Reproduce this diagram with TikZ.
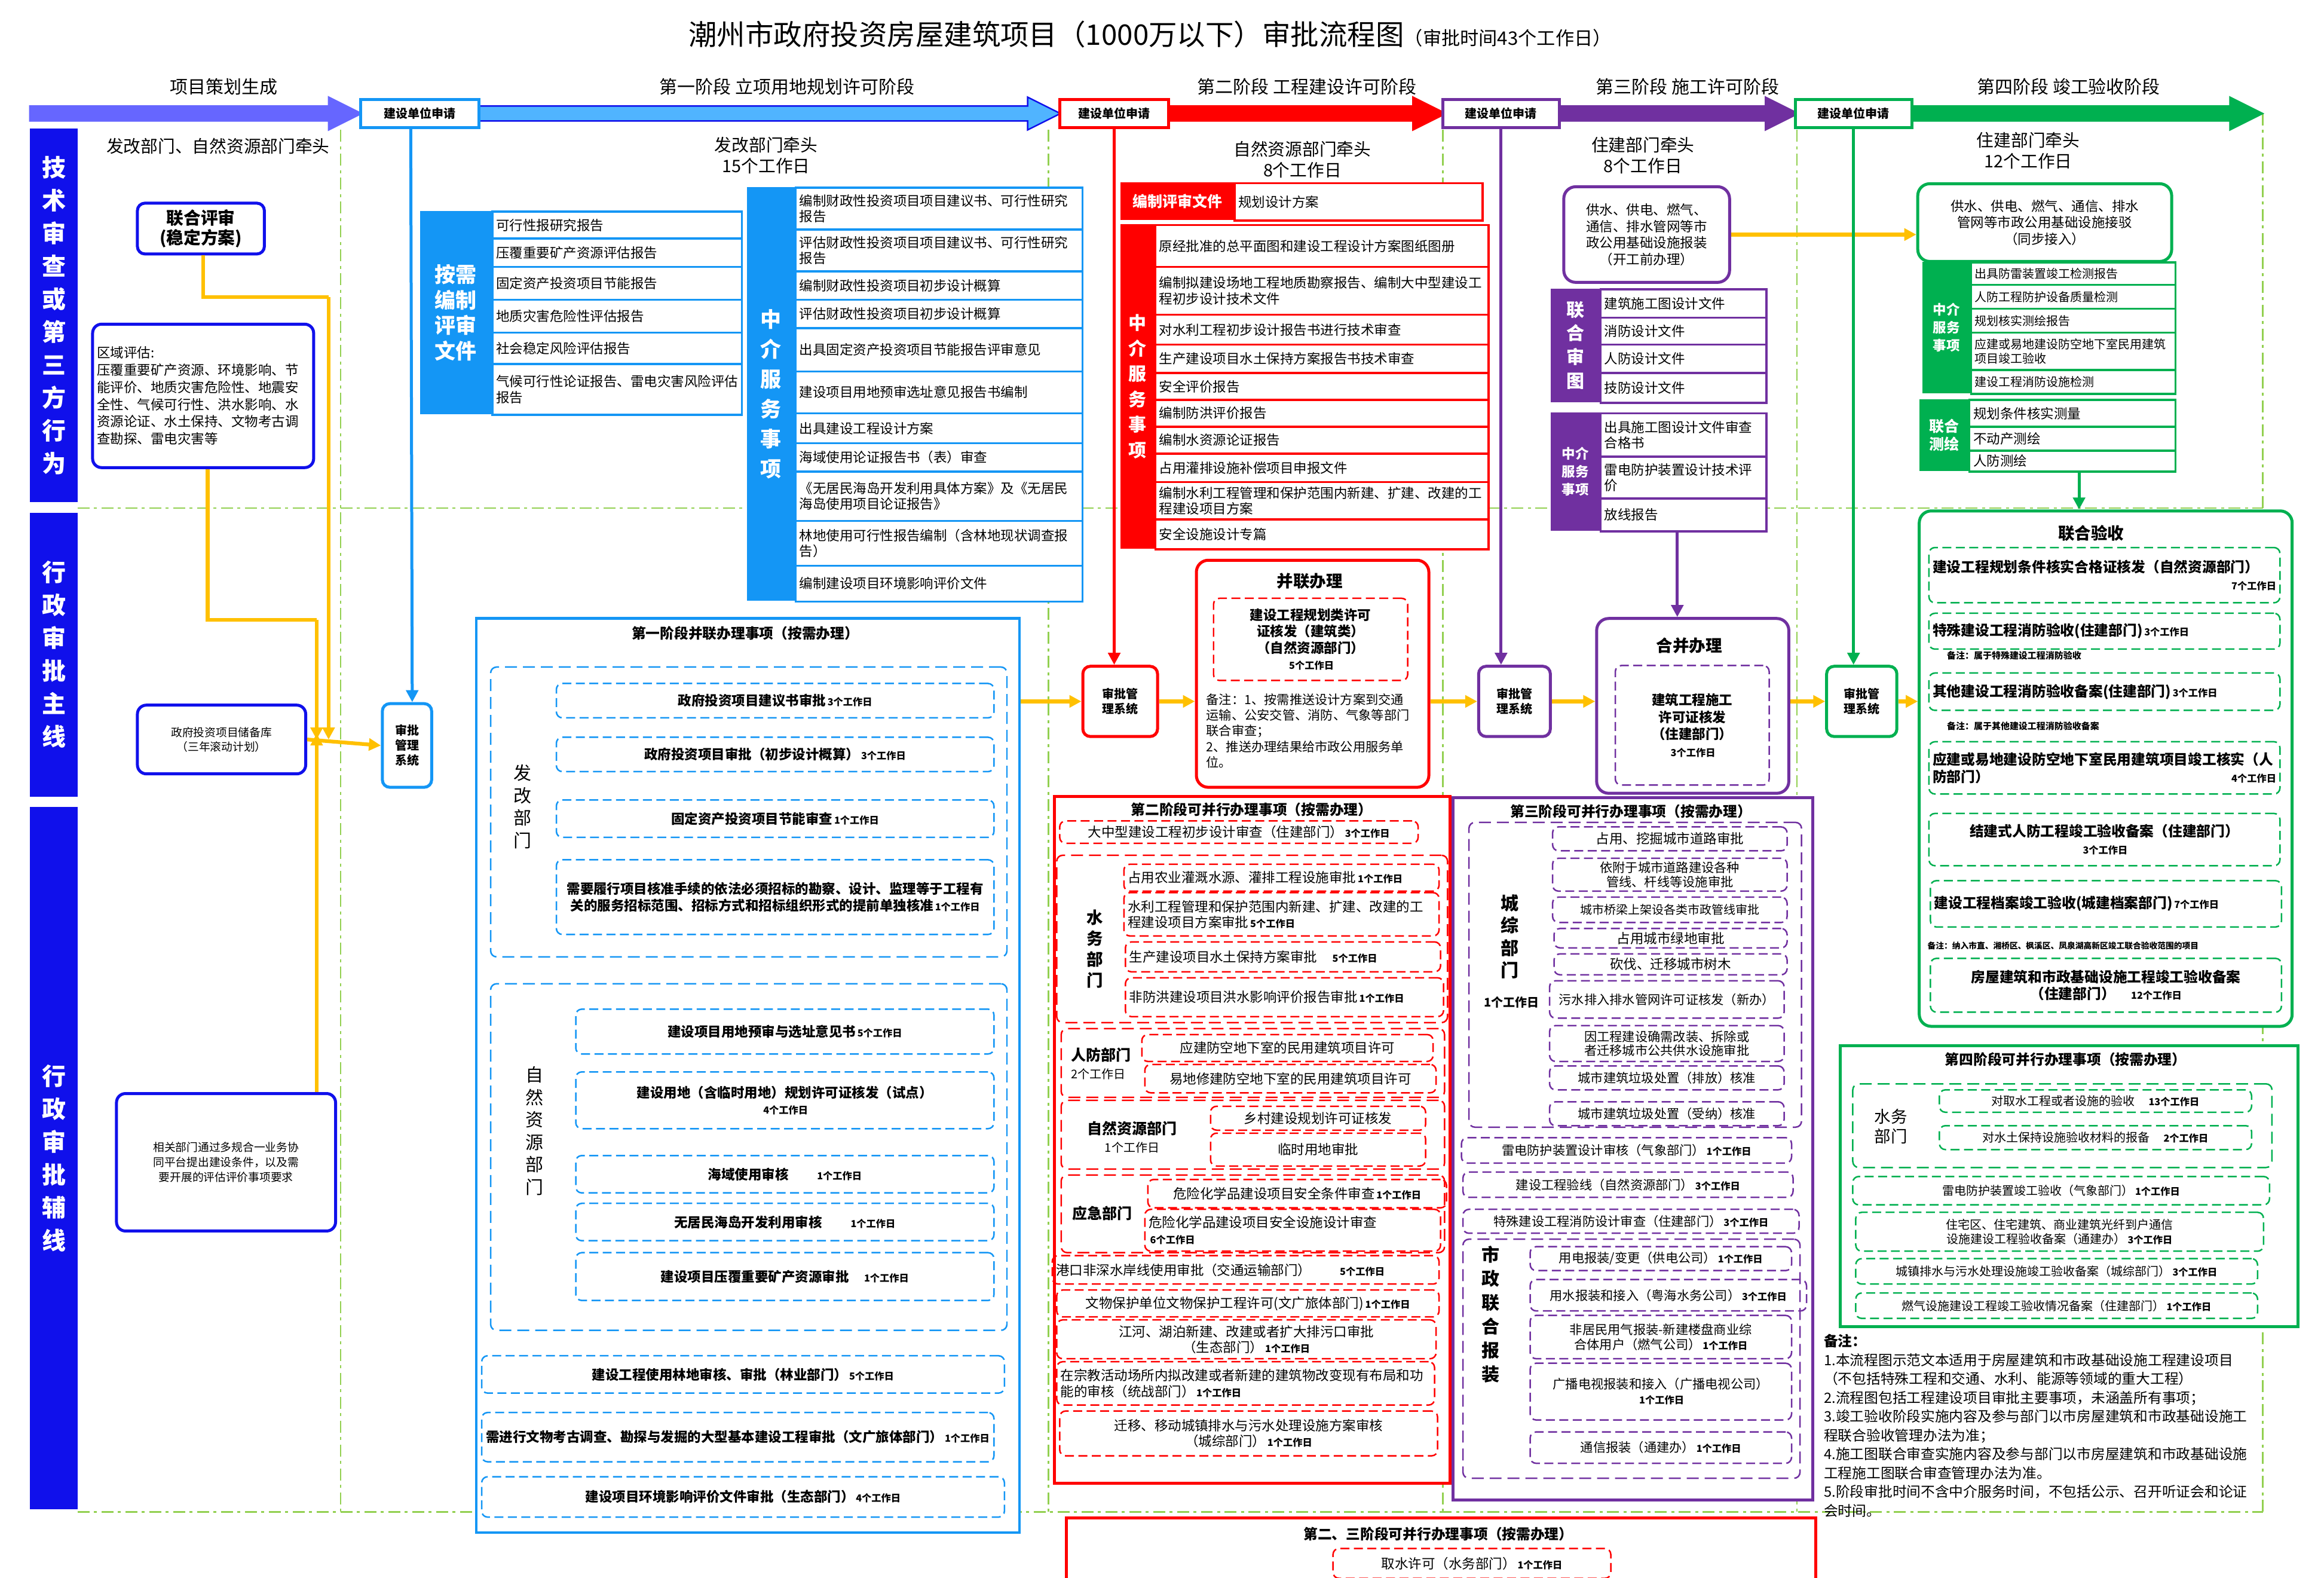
\documentclass[tikz,border=0pt]{standalone}
\usepackage{fontspec}
\setmainfont{Noto Sans CJK SC}
\XeTeXlinebreaklocale "zh"
\XeTeXlinebreakskip=0pt
\usetikzlibrary{arrows.meta}
\definecolor{sideb}{RGB}{16,16,235}
\definecolor{skyb}{RGB}{20,150,245}
\definecolor{redc}{RGB}{255,0,0}
\definecolor{purp}{RGB}{112,48,160}
\definecolor{grn}{RGB}{0,176,80}
\definecolor{yel}{RGB}{255,192,0}
\definecolor{lgr}{RGB}{146,208,80}
\definecolor{peri}{RGB}{102,102,255}
\definecolor{lblue}{RGB}{80,180,255}
\newcommand{\B}[7]{\pgfmathsetmacro\tw{#4-5}\node[#6,anchor=north west,minimum width=#4pt,minimum height=#5pt,text width=\tw pt] (#1) at (#2,#3) {#7};}
\newcommand{\gz}[1]{{\fontsize{6.5}{7.5}\selectfont\bfseries\,#1个工作日}}
\newcommand{\tarr}[5]{\filldraw[fill=#4,draw=#5,line width=1pt] (#1,71) -- (#2-22,71) -- (#2-22,65) -- (#2,76) -- (#2-22,87) -- (#2-22,81) -- (#1,81) -- cycle;}
\tikzset{
 base/.style={inner sep=1.5pt, font=\fontsize{9}{10.5}\selectfont},
 bi/.style={base, draw=skyb, line width=1.3pt, fill=white, align=left},
 ri/.style={base, draw=redc, line width=1.3pt, fill=white, align=left},
 pi/.style={base, draw=purp, line width=1.3pt, fill=white, align=left},
 gi/.style={base, draw=grn, line width=1.3pt, fill=white, align=left, font=\fontsize{8}{9.5}\selectfont},
 lbl/.style={inner sep=1pt, text=white, font=\bfseries\fontsize{12}{14}\selectfont, align=center},
 dsh/.style={base, dash pattern=on 6pt off 3pt, line width=1pt, rounded corners=4pt, align=center},
 dsb/.style={dsh, draw=skyb, font=\bfseries\fontsize{9}{11}\selectfont},
 dsr/.style={dsh, draw=redc},
 dsp/.style={dsh, draw=purp},
 dsg/.style={dsh, draw=grn, font=\fontsize{9}{10.5}\selectfont},
 dsgb/.style={dsh, draw=grn, font=\bfseries\fontsize{9.5}{11.5}\selectfont},
 grp/.style={dash pattern=on 8pt off 4pt, line width=1pt, rounded corners=4pt},
 st/.style={draw, line width=2pt, fill=white, font=\bfseries\fontsize{8}{9}\selectfont, minimum height=19pt, inner sep=2pt},
 sp/.style={draw, line width=2pt, fill=white, rounded corners=5pt, font=\bfseries\fontsize{8}{10}\selectfont, align=center, inner sep=1pt},
 arr/.style={-{Triangle[length=8pt,width=8pt]}},
 yl/.style={draw=yel, line width=2.5pt},
 gd/.style={draw=lgr, line width=1pt, dash pattern=on 8pt off 3pt on 2pt off 3pt},
 rb/.style={draw, line width=2pt, fill=white, rounded corners=8pt},
 hd/.style={font=\fontsize{11.5}{14}\selectfont, align=center},
 tl/.style={font=\bfseries\fontsize{9.5}{11}\selectfont},
 nt/.style={font=\bfseries\fontsize{6}{7}\selectfont, anchor=west}
}
\begin{document}
\begin{tikzpicture}[x=1pt,y=-1pt]
\useasboundingbox[fill=white] (0,0) rectangle (1556,1056);
% guide lines
\draw[gd] (228,87) -- (228,1012);
\draw[gd] (702,87) -- (702,1012);
\draw[gd] (966,87) -- (966,1012);
\draw[gd] (1203,87) -- (1203,1012);
\draw[gd] (1515,76) -- (1515,1012);
\draw[gd] (52,340) -- (1515,340);
\draw[gd] (52,1012) -- (1515,1012);
% title
\node (title) at (770,23) {\fontsize{19}{21}\selectfont 潮州市政府投资房屋建筑项目（1000万以下）审批流程图{\fontsize{12.5}{14}\selectfont （审批时间43个工作日）}};
% stage labels
\node[font=\fontsize{12}{14}\selectfont] (s0) at (150,58) {项目策划生成};
\node[font=\fontsize{12}{14}\selectfont] (s1) at (527,58) {第一阶段\ 立项用地规划许可阶段};
\node[font=\fontsize{12}{14}\selectfont] (s2) at (875,58) {第二阶段\ 工程建设许可阶段};
\node[font=\fontsize{12}{14}\selectfont] (s3) at (1130,58) {第三阶段\ 施工许可阶段};
\node[font=\fontsize{12}{14}\selectfont] (s4) at (1385,58) {第四阶段\ 竣工验收阶段};
% top arrows
\tarr{20}{242}{}{peri}{peri}
\tarr{320}{710}{}{lblue}{sideb}
\tarr{782}{968}{}{redc}{redc}
\tarr{1044}{1204}{}{purp}{purp}
\tarr{1280}{1515}{}{grn}{grn}
\node[st,draw=skyb,minimum width=79pt] (sb1) at (281,76) {建设单位申请};
\node[st,draw=redc,minimum width=73pt] (sb2) at (746,76) {建设单位申请};
\node[st,draw=purp,minimum width=78pt] (sb3) at (1005,76) {建设单位申请};
\node[st,draw=grn,minimum width=78pt] (sb4) at (1241,76) {建设单位申请};
% side bars
\B{side1}{20}{86}{32}{250}{fill=sideb,lbl,font=\bfseries\fontsize{16}{22}\selectfont}{技\\术\\审\\查\\或\\第\\三\\方\\行\\为}
\B{side2}{20}{343}{32}{190}{fill=sideb,lbl,font=\bfseries\fontsize{16}{22}\selectfont}{行\\政\\审\\批\\主\\线}
\B{side3}{20}{540}{32}{470}{fill=sideb,lbl,font=\bfseries\fontsize{16}{22}\selectfont}{行\\政\\审\\批\\辅\\线}
% phase 0
\node[hd] (h0) at (146,98) {发改部门、自然资源部门牵头};
\B{lhps}{91}{135}{85}{34}{draw=sideb,line width=2pt,rounded corners=5pt,align=center,inner sep=1pt,font=\bfseries\fontsize{11.5}{13.5}\selectfont}{联合评审\\(稳定方案)}
\B{qypg}{61}{216}{147}{96}{draw=sideb,line width=2pt,rounded corners=6pt,align=left,inner sep=3pt,font=\fontsize{9}{11.5}\selectfont}{区域评估:\\压覆重要矿产资源、环境影响、节能评价、地质灾害危险性、地震安全性、气候可行性、洪水影响、水资源论证、水土保持、文物考古调查勘探、雷电灾害等}
\B{cbk}{91}{471}{111}{46}{draw=sideb,line width=2pt,rounded corners=6pt,align=center,font=\fontsize{7.5}{9.5}\selectfont}{政府投资项目储备库\\（三年滚动计划）}
\B{xgbm}{77}{731}{145}{92}{draw=sideb,line width=2pt,rounded corners=6pt,align=center,font=\fontsize{7.5}{10}\selectfont}{相关部门通过多规合一业务协同平台提出建设条件，以及需要开展的评估评价事项要求}
\B{sp1}{255}{470}{33}{56}{sp,draw=skyb}{审批\\管理\\系统}
\coordinate (ya) at (220,199);
\coordinate (yb) at (139,415);
\coordinate (yc) at (212,415);
\draw[yl] (lhps.south -| 136,0) |- (ya);
\draw[yl,arr] (ya) -- (ya |- cbk.east);
\draw[yl] (qypg.south -| yb) -- (yb) -- (yc);
\draw[yl,arr] (yc) -- (yc |- cbk.east);
\draw[yl,arr] (xgbm.north -| yc) -- ([yshift=4pt]yc |- cbk.east);
\draw[yl,arr] (cbk.east) -- (sp1.west);
\draw[skyb,line width=2pt,arr] ([xshift=-6pt]sb1.south) -- ([xshift=3.5pt]sp1.north);
% phase 1 top
\node[hd] (h1) at (513,104) {发改部门牵头\\15个工作日};
\B{al}{281}{141}{48}{136}{fill=skyb,lbl,font=\bfseries\fontsize{14}{17}\selectfont}{按需\\编制\\评审\\文件}
\B{a1}{329}{141}{167}{18}{bi}{可行性报研究报告}
\B{a2}{329}{159}{167}{19}{bi}{压覆重要矿产资源评估报告}
\B{a3}{329}{178}{167}{22}{bi}{固定资产投资项目节能报告}
\B{a4}{329}{200}{167}{22}{bi}{地质灾害危险性评估报告}
\B{a5}{329}{222}{167}{21}{bi}{社会稳定风险评估报告}
\B{a6}{329}{243}{167}{34}{bi}{气候可行性论证报告、雷电灾害风险评估报告}
\B{bl}{500}{125}{32}{277}{fill=skyb,lbl,font=\bfseries\fontsize{14}{20}\selectfont}{中\\介\\服\\务\\事\\项}
\B{b1}{532}{125}{192}{28}{bi}{编制财政性投资项目项目建议书、可行性研究报告}
\B{b2}{532}{153}{192}{28}{bi}{评估财政性投资项目项目建议书、可行性研究报告}
\B{b3}{532}{181}{192}{19}{bi}{编制财政性投资项目初步设计概算}
\B{b4}{532}{200}{192}{19}{bi}{评估财政性投资项目初步设计概算}
\B{b5}{532}{219}{192}{29}{bi}{出具固定资产投资项目节能报告评审意见}
\B{b6}{532}{248}{192}{28}{bi}{建设项目用地预审选址意见报告书编制}
\B{b7}{532}{276}{192}{20}{bi}{出具建设工程设计方案}
\B{b8}{532}{296}{192}{19}{bi}{海域使用论证报告书（表）审查}
\B{b9}{532}{315}{192}{33}{bi}{《无居民海岛开发利用具体方案》及《无居民海岛使用项目论证报告》}
\B{b10}{532}{348}{192}{30}{bi}{林地使用可行性报告编制（含林地现状调查报告）}
\B{b11}{532}{378}{192}{24}{bi}{编制建设项目环境影响评价文件}
% phase 1 parallel
\B{P1}{318}{413}{362}{612}{draw=skyb,line width=1.8pt,fill=white}{}
\node[tl] (P1t) at (499,424) {第一阶段并联办理事项（按需办理）};
\B{GA}{328}{446}{344}{194}{grp,draw=skyb}{}
\node[font=\fontsize{12}{15}\selectfont,align=center] (GAl) at (350,540) {发\\改\\部\\门};
\B{h1i}{372}{457}{293}{23}{dsb}{政府投资项目建议书审批\gz{3}}
\B{h2i}{372}{493}{293}{23}{dsb}{政府投资项目审批（初步设计概算）\gz{3}}
\B{h3i}{372}{535}{293}{25}{dsb}{固定资产投资项目节能审查\gz{1}}
\B{h4i}{372}{575}{293}{50}{dsb}{需要履行项目核准手续的依法必须招标的勘察、设计、监理等于工程有关的服务招标范围、招标方式和招标组织形式的提前单独核准\gz{1}}
\B{GB}{328}{658}{344}{232}{grp,draw=skyb}{}
\node[font=\fontsize{12}{15}\selectfont,align=center] (GBl) at (358,757) {自\\然\\资\\源\\部\\门};
\B{i1}{385}{675}{280}{30}{dsb}{建设项目用地预审与选址意见书\gz{5}}
\B{i2}{385}{717}{280}{38}{dsb}{建设用地（含临时用地）规划许可证核发（试点）\\\gz{4}}
\B{i3}{385}{773}{280}{25}{dsb}{海域使用审核\qquad\gz{1}}
\B{i4}{385}{805}{280}{25}{dsb}{无居民海岛开发利用审核\qquad\gz{1}}
\B{i5}{385}{838}{280}{32}{dsb}{建设项目压覆重要矿产资源审批\quad\gz{1}}
\B{j1}{322}{907}{350}{25}{dsb}{建设工程使用林地审核、审批（林业部门）\gz{5}}
\B{j2}{322}{945}{343}{33}{dsb}{需进行文物考古调查、勘探与发掘的大型基本建设工程审批（文广旅体部门）\gz{1}}
\B{j3}{322}{988}{350}{27}{dsb}{建设项目环境影响评价文件审批（生态部门）\gz{4}}
% phase 2 top
\node[hd] (h2) at (872,107) {自然资源部门牵头\\8个工作日};
\B{c0}{750}{122}{76}{25}{fill=redc,lbl,font=\bfseries\fontsize{10}{12}\selectfont}{编制评审文件}
\B{c0i}{826}{122}{166}{25}{ri}{规划设计方案}
\B{cl}{750}{150}{23}{217}{fill=redc,lbl,font=\bfseries\fontsize{12}{17}\selectfont}{中\\介\\服\\务\\事\\项}
\B{c1}{773}{150}{223}{28}{ri}{原经批准的总平面图和建设工程设计方案图纸图册}
\B{c2}{773}{178}{223}{32}{ri}{编制拟建设场地工程地质勘察报告、编制大中型建设工程初步设计技术文件}
\B{c3}{773}{210}{223}{20}{ri}{对水利工程初步设计报告书进行技术审查}
\B{c4}{773}{230}{223}{19}{ri}{生产建设项目水土保持方案报告书技术审查}
\B{c5}{773}{249}{223}{18}{ri}{安全评价报告}
\B{c6}{773}{267}{223}{18}{ri}{编制防洪评价报告}
\B{c7}{773}{285}{223}{18}{ri}{编制水资源论证报告}
\B{c8}{773}{303}{223}{19}{ri}{占用灌排设施补偿项目申报文件}
\B{c9}{773}{322}{223}{25}{ri}{编制水利工程管理和保护范围内新建、扩建、改建的工程建设项目方案}
\B{c10}{773}{347}{223}{20}{ri}{安全设施设计专篇}
\B{sp2}{724}{445}{50}{47}{sp,draw=redc}{审批管\\理系统}
\draw[redc,line width=2pt,arr] (sb2.south) -- (sb2.south |- sp2.north);
\B{bl2}{800}{374}{154}{152}{rb,draw=redc}{}
\node[font=\bfseries\fontsize{11}{13}\selectfont] (bl2t) at (877,389) {并联办理};
\B{bl2i}{812}{400}{130}{55}{dsr,font=\bfseries\fontsize{9}{11}\selectfont}{建设工程规划类许可证核发（建筑类）\\（自然资源部门）\\\gz{5}}
\B{bl2n}{805}{457}{145}{64}{base,align=left,font=\fontsize{8.5}{10.5}\selectfont}{备注：1、按需推送设计方案到交通运输、公安交管、消防、气象等部门联合审查；\\2、推送办理结果给市政公用服务单位。}
\draw[yl,arr] (P1.east |- sp2.west) -- (sp2.west);
\draw[yl,arr] (sp2.east) -- (sp2.east -| bl2.west);
% phase 2 parallel
\B{P2}{705}{532}{263}{460}{draw=redc,line width=2pt,fill=white}{}
\node[tl] (P2t) at (838,542) {第二阶段可并行办理事项（按需办理）};
\B{k0}{709}{549}{240}{15}{dsr}{大中型建设工程初步设计审查（住建部门）\gz{3}}
\B{KW}{707}{572}{260}{112}{grp,draw=redc}{}
\node[font=\bfseries\fontsize{11}{14}\selectfont,align=center] (KWl) at (733,635) {水\\务\\部\\门};
\B{kw1}{752}{578}{211}{18}{dsr,align=left}{占用农业灌溉水源、灌排工程设施审批\gz{1}}
\B{kw2}{752}{597}{211}{29}{dsr,align=left}{水利工程管理和保护范围内新建、扩建、改建的工程建设项目方案审批\gz{5}}
\B{kw3}{753}{630}{211}{20}{dsr,align=left}{生产建设项目水土保持方案审批\quad\gz{5}}
\B{kw4}{753}{654}{213}{26}{dsr,align=left}{非防洪建设项目洪水影响评价报告审批\gz{1}}
\B{KR}{710}{688}{255}{46}{grp,draw=redc}{}
\node[font=\fontsize{10}{13}\selectfont,align=left] (KRl) at (737,712) {\bfseries 人防部门\\[-1pt]{\fontsize{8}{9}\selectfont 2个工作日}};
\B{kr1}{764}{692}{195}{18}{dsr}{应建防空地下室的民用建筑项目许可}
\B{kr2}{766}{712}{195}{19}{dsr}{易地修建防空地下室的民用建筑项目许可}
\B{KZ}{710}{736}{255}{46}{grp,draw=redc}{}
\node[font=\fontsize{10}{13}\selectfont,align=center] (KZl) at (758,761) {\bfseries 自然资源部门\\[-1pt]{\fontsize{8}{9}\selectfont 1个工作日}};
\B{kz1}{810}{740}{144}{16}{dsr}{乡村建设规划许可证核发}
\B{kz2}{810}{758}{144}{22}{dsr}{临时用地审批}
\B{KY}{710}{786}{255}{52}{grp,draw=redc}{}
\node[font=\bfseries\fontsize{10}{13}\selectfont] (KYl) at (738,812) {应急部门};
\B{ky1}{768}{789}{200}{19}{dsr}{危险化学品建设项目安全条件审查\gz{1}}
\B{ky2}{766}{809}{198}{28}{dsr,align=left}{危险化学品建设项目安全设施设计审查\\\gz{6}}
\B{k1}{704}{840}{259}{19}{dsr,align=left}{港口非深水岸线使用审批（交通运输部门）\qquad\gz{5}}
\B{k2}{707}{863}{256}{18}{dsr}{文物保护单位文物保护工程许可(文广旅体部门)\gz{1}}
\B{k3}{707}{883}{254}{26}{dsr}{江河、湖泊新建、改建或者扩大排污口审批\\（生态部门）\gz{1}}
\B{k4}{707}{911}{253}{29}{dsr,align=left}{在宗教活动场所内拟改建或者新建的建筑物改变现有布局和功能的审核（统战部门）\gz{1}}
\B{k5}{709}{944}{253}{30}{dsr}{迁移、移动城镇排水与污水处理设施方案审核\\（城综部门）\gz{1}}
% phase 2-3 bottom
\B{P23}{713}{1015}{500}{47}{draw=redc,line width=2pt,fill=white}{}
\node[tl] (P23t) at (963,1027) {第二、三阶段可并行办理事项（按需办理）};
\B{p23i}{892}{1036}{186}{20}{dsr}{取水许可（水务部门）\gz{1}}
% phase 3 top
\node[hd] (h3) at (1100,104) {住建部门牵头\\8个工作日};
\B{gs3}{1046}{124}{111}{64}{rb,draw=purp,align=center,inner sep=2pt,font=\fontsize{9}{11}\selectfont}{供水、供电、燃气、通信、排水管网等市政公用基础设施报装\\（开工前办理）}
\B{dl}{1038}{193}{33}{76}{fill=purp,lbl,font=\bfseries\fontsize{12}{16}\selectfont}{联\\合\\审\\图}
\B{d1}{1071}{193}{111}{19}{pi}{建筑施工图设计文件}
\B{d2}{1071}{212}{111}{18}{pi}{消防设计文件}
\B{d3}{1071}{230}{111}{19}{pi}{人防设计文件}
\B{d4}{1071}{249}{111}{20}{pi}{技防设计文件}
\B{el}{1038}{276}{33}{79}{fill=purp,lbl,font=\bfseries\fontsize{9}{12}\selectfont}{中介\\服务\\事项}
\B{e1}{1071}{276}{111}{29}{pi}{出具施工图设计文件审查合格书}
\B{e2}{1071}{305}{111}{28}{pi}{雷电防护装置设计技术评价}
\B{e3}{1071}{333}{111}{22}{pi}{放线报告}
\B{sp3}{989}{445}{48}{47}{sp,draw=purp}{审批管\\理系统}
\draw[purp,line width=2pt,arr] (sb3.south) -- (sb3.south |- sp3.north);
\B{hb3}{1068}{413}{127}{117}{rb,draw=purp}{}
\node[font=\bfseries\fontsize{11}{13}\selectfont] (hb3t) at (1131,432) {合并办理};
\B{hb3i}{1081}{445}{103}{80}{dsp,font=\bfseries\fontsize{9}{11.5}\selectfont}{建筑工程施工许可证核发\\（住建部门）\\\gz{3}}
\draw[purp,line width=2pt,arr] (e3.south -| 1123,0) -- (hb3.north -| 1123,0);
\draw[yl,arr] (bl2.east |- sp3.west) -- (sp3.west);
\draw[yl,arr] (sp3.east) -- (sp3.east -| hb3.west);
% phase 3 parallel
\B{P3}{972}{533}{239}{470}{draw=purp,line width=2pt,fill=white}{}
\node[tl] (P3t) at (1092,543) {第三阶段可并行办理事项（按需办理）};
\B{CZ}{983}{550}{221}{204}{grp,draw=purp}{}
\node[font=\bfseries\fontsize{12}{15}\selectfont,align=center] (CZl) at (1011,627) {城\\综\\部\\门};
\node[font=\bfseries\fontsize{8}{9}\selectfont] (CZd) at (1012,671) {1个工作日};
\B{m1}{1039}{553}{157}{16}{dsp}{占用、挖掘城市道路审批}
\B{m2}{1039}{574}{157}{22}{dsp,font=\fontsize{8.5}{9.5}\selectfont}{依附于城市道路建设各种管线、杆线等设施审批}
\B{m3}{1039}{600}{157}{17}{dsp,font=\fontsize{8}{9}\selectfont}{城市桥梁上架设各类市政管线审批}
\B{m4}{1040}{621}{156}{13}{dsp}{占用城市绿地审批}
\B{m5}{1040}{638}{156}{14}{dsp}{砍伐、迁移城市树木}
\B{m6}{1037}{656}{157}{25}{dsp,font=\fontsize{8.5}{9.5}\selectfont}{污水排入排水管网许可证核发（新办）}
\B{m7}{1037}{686}{157}{24}{dsp,font=\fontsize{8.5}{9.5}\selectfont}{因工程建设确需改装、拆除或者迁移城市公共供水设施审批}
\B{m8}{1037}{713}{157}{16}{dsp,font=\fontsize{8.5}{9.5}\selectfont}{城市建筑垃圾处置（排放）核准}
\B{m9}{1037}{737}{157}{16}{dsp,font=\fontsize{8.5}{9.5}\selectfont}{城市建筑垃圾处置（受纳）核准}
\B{n1}{978}{761}{221}{17}{dsp,font=\fontsize{8.5}{9.5}\selectfont}{雷电防护装置设计审核（气象部门）\gz{1}}
\B{n2}{979}{784}{221}{17}{dsp,font=\fontsize{8.5}{9.5}\selectfont}{建设工程验线（自然资源部门）\gz{3}}
\B{n3}{979}{809}{225}{16}{dsp,font=\fontsize{8.5}{9.5}\selectfont}{特殊建设工程消防设计审查（住建部门）\gz{3}}
\B{SZ}{979}{829}{224}{160}{grp,draw=purp}{}
\node[font=\bfseries\fontsize{12}{16}\selectfont,align=center] (SZl) at (998,880) {市\\政\\联\\合\\报\\装};
\B{o1}{1024}{834}{175}{16}{dsp,font=\fontsize{8.5}{9.5}\selectfont}{用电报装/变更（供电公司）\gz{1}}
\B{o2}{1024}{856}{185}{21}{dsp,font=\fontsize{8.5}{9.5}\selectfont}{用水报装和接入（粤海水务公司）\gz{3}}
\B{o3}{1024}{880}{175}{29}{dsp,font=\fontsize{8.5}{10}\selectfont}{非居民用气报装-新建楼盘商业综合体用户（燃气公司）\gz{1}}
\B{o4}{1024}{912}{175}{38}{dsp,font=\fontsize{8.5}{10}\selectfont}{广播电视报装和接入（广播电视公司）\\\gz{1}}
\B{o5}{1024}{958}{175}{21}{dsp,font=\fontsize{8.5}{9.5}\selectfont}{通信报装（通建办）\gz{1}}
% phase 4 top
\node[hd] (h4) at (1358,101) {住建部门牵头\\12个工作日};
\B{gs4}{1283}{122}{170}{52}{rb,draw=grn,align=center,inner sep=2pt,font=\fontsize{9}{11}\selectfont}{供水、供电、燃气、通信、排水管网等市政公用基础设施接驳\\（同步接入）}
\draw[yl,arr] (gs3.east) -- (gs3.east -| gs4.west);
\B{fl}{1287}{175}{32}{88}{fill=grn,lbl,font=\bfseries\fontsize{9}{12}\selectfont}{中介\\服务\\事项}
\B{f1}{1319}{175}{137}{15}{gi}{出具防雷装置竣工检测报告}
\B{f2}{1319}{190}{137}{16}{gi}{人防工程防护设备质量检测}
\B{f3}{1319}{206}{137}{16}{gi}{规划核实测绘报告}
\B{f4}{1319}{222}{137}{25}{gi}{应建或易地建设防空地下室民用建筑项目竣工验收}
\B{f5}{1319}{247}{137}{16}{gi}{建设工程消防设施检测}
\B{gl}{1285}{267}{33}{48}{fill=grn,lbl,font=\bfseries\fontsize{10}{12}\selectfont}{联合\\测绘}
\B{g1}{1318}{267}{138}{18}{gi,font=\fontsize{9}{10}\selectfont}{规划条件核实测量}
\B{g2}{1318}{285}{138}{16}{gi,font=\fontsize{9}{10}\selectfont}{不动产测绘}
\B{g3}{1318}{301}{138}{14}{gi,font=\fontsize{9}{10}\selectfont}{人防测绘}
\B{sp4}{1222}{445}{47}{47}{sp,draw=grn}{审批管\\理系统}
\draw[grn,line width=2pt,arr] (sb4.south) -- (sb4.south |- sp4.north);
\draw[yl,arr] (hb3.east |- sp4.west) -- (sp4.west);
% joint acceptance
\B{ys}{1284}{341}{248}{345}{rb,draw=grn}{}
\draw[grn,line width=2pt,arr] (g3.south -| 1392,0) -- (ys.north -| 1392,0);
\draw[yl,arr] (sp4.east) -- (sp4.east -| ys.west);
\node[font=\bfseries\fontsize{11}{13}\selectfont] (yst) at (1400,357) {联合验收};
\B{y1}{1291}{366}{235}{37}{dsgb,align=left}{建设工程规划条件核实合格证核发（自然资源部门）\\\hfill\gz{7}}
\B{y2}{1291}{410}{235}{24}{dsgb,align=left}{特殊建设工程消防验收(住建部门)\gz{3}}
\node[nt] (y2n) at (1300,439) {备注：属于特殊建设工程消防验收};
\B{y3}{1291}{450}{235}{25}{dsgb,align=left}{其他建设工程消防验收备案(住建部门)\gz{3}}
\node[nt] (y3n) at (1300,486) {备注：属于其他建设工程消防验收备案};
\B{y4}{1291}{496}{235}{35}{dsgb,align=left}{应建或易地建设防空地下室民用建筑项目竣工核实（人防部门）\hfill\gz{4}}
\B{y5}{1291}{544}{235}{35}{dsgb}{结建式人防工程竣工验收备案（住建部门）\\\gz{3}}
\B{y6}{1292}{589}{235}{31}{dsgb,align=left}{建设工程档案竣工验收(城建档案部门)\gz{7}}
\node[nt,font=\bfseries\fontsize{5.5}{6.5}\selectfont] (y6n) at (1287,633) {备注：纳入市直、湘桥区、枫溪区、凤泉湖高新区竣工联合验收范围的项目};
\B{y7}{1292}{641}{235}{36}{dsgb}{房屋建筑和市政基础设施工程竣工验收备案\\（住建部门）\quad\gz{12}}
% phase 4 parallel
\B{P4}{1231}{699}{305}{188}{draw=grn,line width=2pt,fill=white}{}
\node[tl] (P4t) at (1383,709) {第四阶段可并行办理事项（按需办理）};
\B{WS}{1240}{725}{279}{56}{grp,draw=grn}{}
\node[font=\fontsize{11}{13}\selectfont,align=left] (WSl) at (1266,754) {水务\\部门};
\B{q1}{1298}{729}{209}{15}{dsg,font=\fontsize{8}{9}\selectfont}{对取水工程或者设施的验收\quad\gz{13}}
\B{q2}{1298}{753}{209}{16}{dsg,font=\fontsize{8}{9}\selectfont}{对水土保持设施验收材料的报备\quad\gz{2}}
\B{q3}{1240}{787}{279}{19}{dsg,font=\fontsize{8}{9}\selectfont}{雷电防护装置竣工验收（气象部门）\gz{1}}
\B{q4}{1242}{811}{273}{26}{dsg,font=\fontsize{8}{9.5}\selectfont}{住宅区、住宅建筑、商业建筑光纤到户通信设施建设工程验收备案（通建办）\gz{3}}
\B{q5}{1242}{842}{269}{17}{dsg,font=\fontsize{8}{9}\selectfont}{城镇排水与污水处理设施竣工验收备案（城综部门）\gz{3}}
\B{q6}{1242}{865}{269}{17}{dsg,font=\fontsize{8}{9}\selectfont}{燃气设施建设工程竣工验收情况备案（住建部门）\gz{1}}
% notes
\node[anchor=north west,inner sep=0pt,text width=284pt,align=left,font=\fontsize{9.5}{12.6}\selectfont] (notes) at (1221,893) {\textbf{备注：}\\1.本流程图示范文本适用于房屋建筑和市政基础设施工程建设项目（不包括特殊工程和交通、水利、能源等领域的重大工程）\\2.流程图包括工程建设项目审批主要事项，未涵盖所有事项；\\3.竣工验收阶段实施内容及参与部门以市房屋建筑和市政基础设施工程联合验收管理办法为准；\\4.施工图联合审查实施内容及参与部门以市房屋建筑和市政基础设施工程施工图联合审查管理办法为准。\\5.阶段审批时间不含中介服务时间，不包括公示、召开听证会和论证会时间。};
\end{tikzpicture}
\end{document}
